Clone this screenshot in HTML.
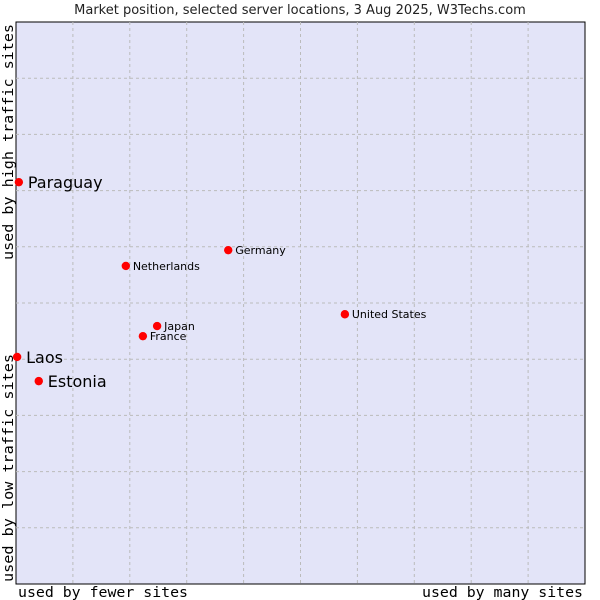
<!DOCTYPE html>
<html><head><meta charset="utf-8"><style>
body{margin:0;background:#fff;width:600px;height:600px;overflow:hidden}
svg{display:block}
</style></head><body>
<svg id="chart" width="600" height="600">
<text x="300" y="14" text-anchor="middle" font-family="DejaVu Sans, sans-serif" font-size="13" fill="#222">Market position, selected server locations, 3 Aug 2025, W3Techs.com</text>
<rect x="16" y="22" width="569" height="562" fill="#e3e4f8" stroke="#000" stroke-width="1"/>
<g id="grid"></g>
<g id="pts"></g>
<text x="18" y="597" textLength="170" lengthAdjust="spacingAndGlyphs" font-family="DejaVu Sans Mono, monospace" font-size="14" fill="#000">used by fewer sites</text>
<text x="422" y="597" textLength="161" lengthAdjust="spacingAndGlyphs" font-family="DejaVu Sans Mono, monospace" font-size="14" fill="#000">used by many sites</text>
<text transform="translate(13,260) rotate(-90)" textLength="236" lengthAdjust="spacingAndGlyphs" font-family="DejaVu Sans Mono, monospace" font-size="14" fill="#000">used by high traffic sites</text>
<text transform="translate(13,582) rotate(-90)" textLength="228" lengthAdjust="spacingAndGlyphs" font-family="DejaVu Sans Mono, monospace" font-size="14" fill="#000">used by low traffic sites</text>
</svg>
<script>
const names=["Paraguay","Laos","Estonia","Netherlands","Germany","United States","Japan","France"];
const xVals=[0.5,0.2,4.0,19.3,37.3,57.8,24.8,22.3];
const yVals=[71.5,40.4,36.1,56.6,59.4,48.0,45.9,44.1];
const bigLabel=[true,true,true,false,false,false,false,false];
const X0=16,X1=585,Y0=22,Y1=584;
function sx(v){return X0+v/100*(X1-X0);}
function sy(v){return Y1-v/100*(Y1-Y0);}
const NS="http://www.w3.org/2000/svg";
const g=document.getElementById('grid');
for(let i=1;i<10;i++){
  const vx=document.createElementNS(NS,'line');
  vx.setAttribute('x1',sx(i*10));vx.setAttribute('x2',sx(i*10));vx.setAttribute('y1',Y0);vx.setAttribute('y2',Y1);
  vx.setAttribute('stroke','#bbb');vx.setAttribute('stroke-dasharray','3,3');
  
  
  g.appendChild(vx);
  const hz=document.createElementNS(NS,'line');
  hz.setAttribute('y1',sy(i*10));hz.setAttribute('y2',sy(i*10));hz.setAttribute('x1',X0);hz.setAttribute('x2',X1);
  hz.setAttribute('stroke','#bbb');hz.setAttribute('stroke-dasharray','3,3');
  
  
  g.appendChild(hz);
}
const p=document.getElementById('pts');
names.forEach((n,i)=>{
  const x=sx(xVals[i]),y=sy(yVals[i]);
  const c=document.createElementNS(NS,'circle');
  c.setAttribute('cx',x);c.setAttribute('cy',y);c.setAttribute('r',4.2);
  c.setAttribute('fill','#f00');
  
  
  p.appendChild(c);
  const t=document.createElementNS(NS,'text');
  t.setAttribute('x',x+(bigLabel[i]?9:7));
  t.setAttribute('y',y+(bigLabel[i]?6:4));
  t.setAttribute('font-family','DejaVu Sans, sans-serif');
  t.setAttribute('font-size',bigLabel[i]?16:11);
  t.setAttribute('fill','#000');
  t.textContent=n;
  
  
  p.appendChild(t);
});
</script>
</body></html>
